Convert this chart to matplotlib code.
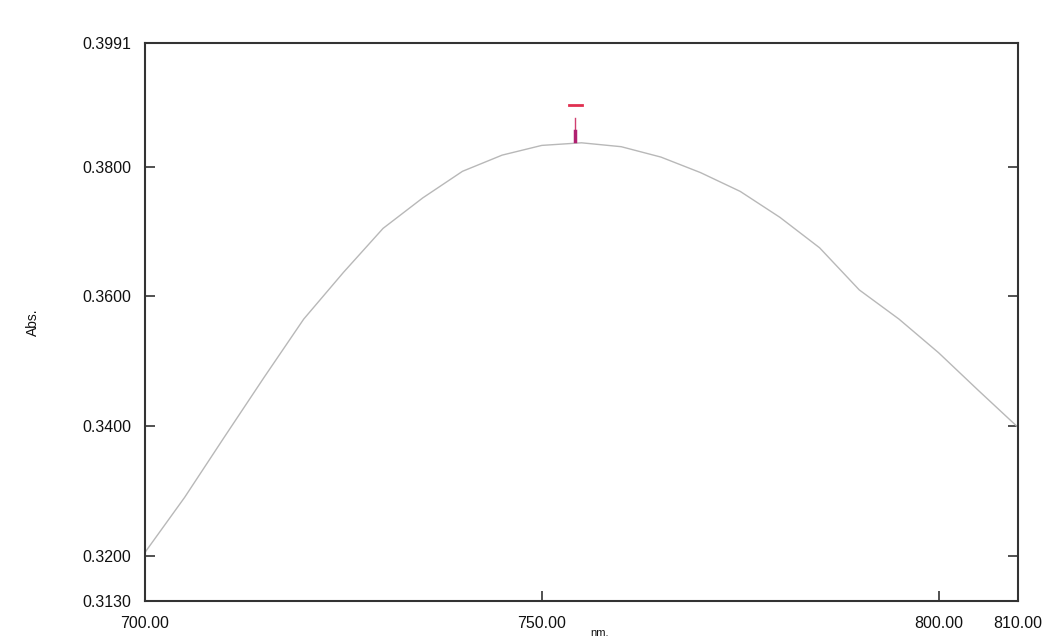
import matplotlib
matplotlib.use("Agg")
import matplotlib.pyplot as plt

# spectrum
wavelength = [700, 705, 710, 715, 720, 725, 730, 735, 740, 745, 750, 755,
              760, 765, 770, 775, 780, 785, 790, 795, 800, 805, 810]
absorbance = [0.3205, 0.3290, 0.3383, 0.3475, 0.3565, 0.3637, 0.3705,
              0.3752, 0.3793, 0.3818, 0.3833, 0.3837, 0.3831, 0.3815,
              0.3791, 0.3762, 0.3722, 0.3675, 0.3610, 0.3565, 0.3513,
              0.3455, 0.3398]

x_ticks = [700, 750, 800, 810]
y_ticks = [0.3130, 0.3200, 0.3400, 0.3600, 0.3800, 0.3991]

peak_x = 754.2
peak_y = 0.3840

plt.rcParams["font.family"] = ["Liberation Sans", "DejaVu Sans"]

fig = plt.figure(figsize=(10.47, 6.39), dpi=100)
ax = fig.add_axes([0.1385, 0.0595, 0.8338, 0.8732])

ax.plot(
    wavelength,
    absorbance,
    color="#b8b8b8",
    linewidth=1.0
)

# peak pick marker
ax.plot(
    [peak_x, peak_x],
    [peak_y + 0.0036, peak_y],
    color="#d04070",
    linewidth=1.0
)
ax.plot(
    [peak_x, peak_x],
    [peak_y + 0.0015, peak_y],
    color="#b02070",
    linewidth=2.5
)
ax.plot(
    [peak_x - 0.8, peak_x + 0.8],
    [0.3895, 0.3895],
    color="#e03050",
    linewidth=2.0
)

ax.set_xlim(700, 810)
ax.set_ylim(0.3130, 0.3991)

ax.set_xticks(x_ticks)
ax.set_xticklabels(["%.2f" % v for v in x_ticks])
ax.set_yticks(y_ticks)
ax.set_yticklabels(["%.4f" % v for v in y_ticks])

ax.tick_params(
    axis="both",
    direction="in",
    length=7,
    width=1.2,
    color="#333333",
    labelsize=11.5,
    labelcolor="#111111"
)
ax.tick_params(axis="y", right=True, pad=10)
ax.tick_params(axis="x", pad=11)

for side in ax.spines.values():
    side.set_linewidth(1.5)
    side.set_color("#333333")

ax.set_ylabel("Abs.", fontsize=10, color="#111111", labelpad=30)
fig.text(0.573, 0.002, "nm.", fontsize=8, color="#111111",
         ha="center", va="bottom")

fig.savefig("out.png", dpi=100)
